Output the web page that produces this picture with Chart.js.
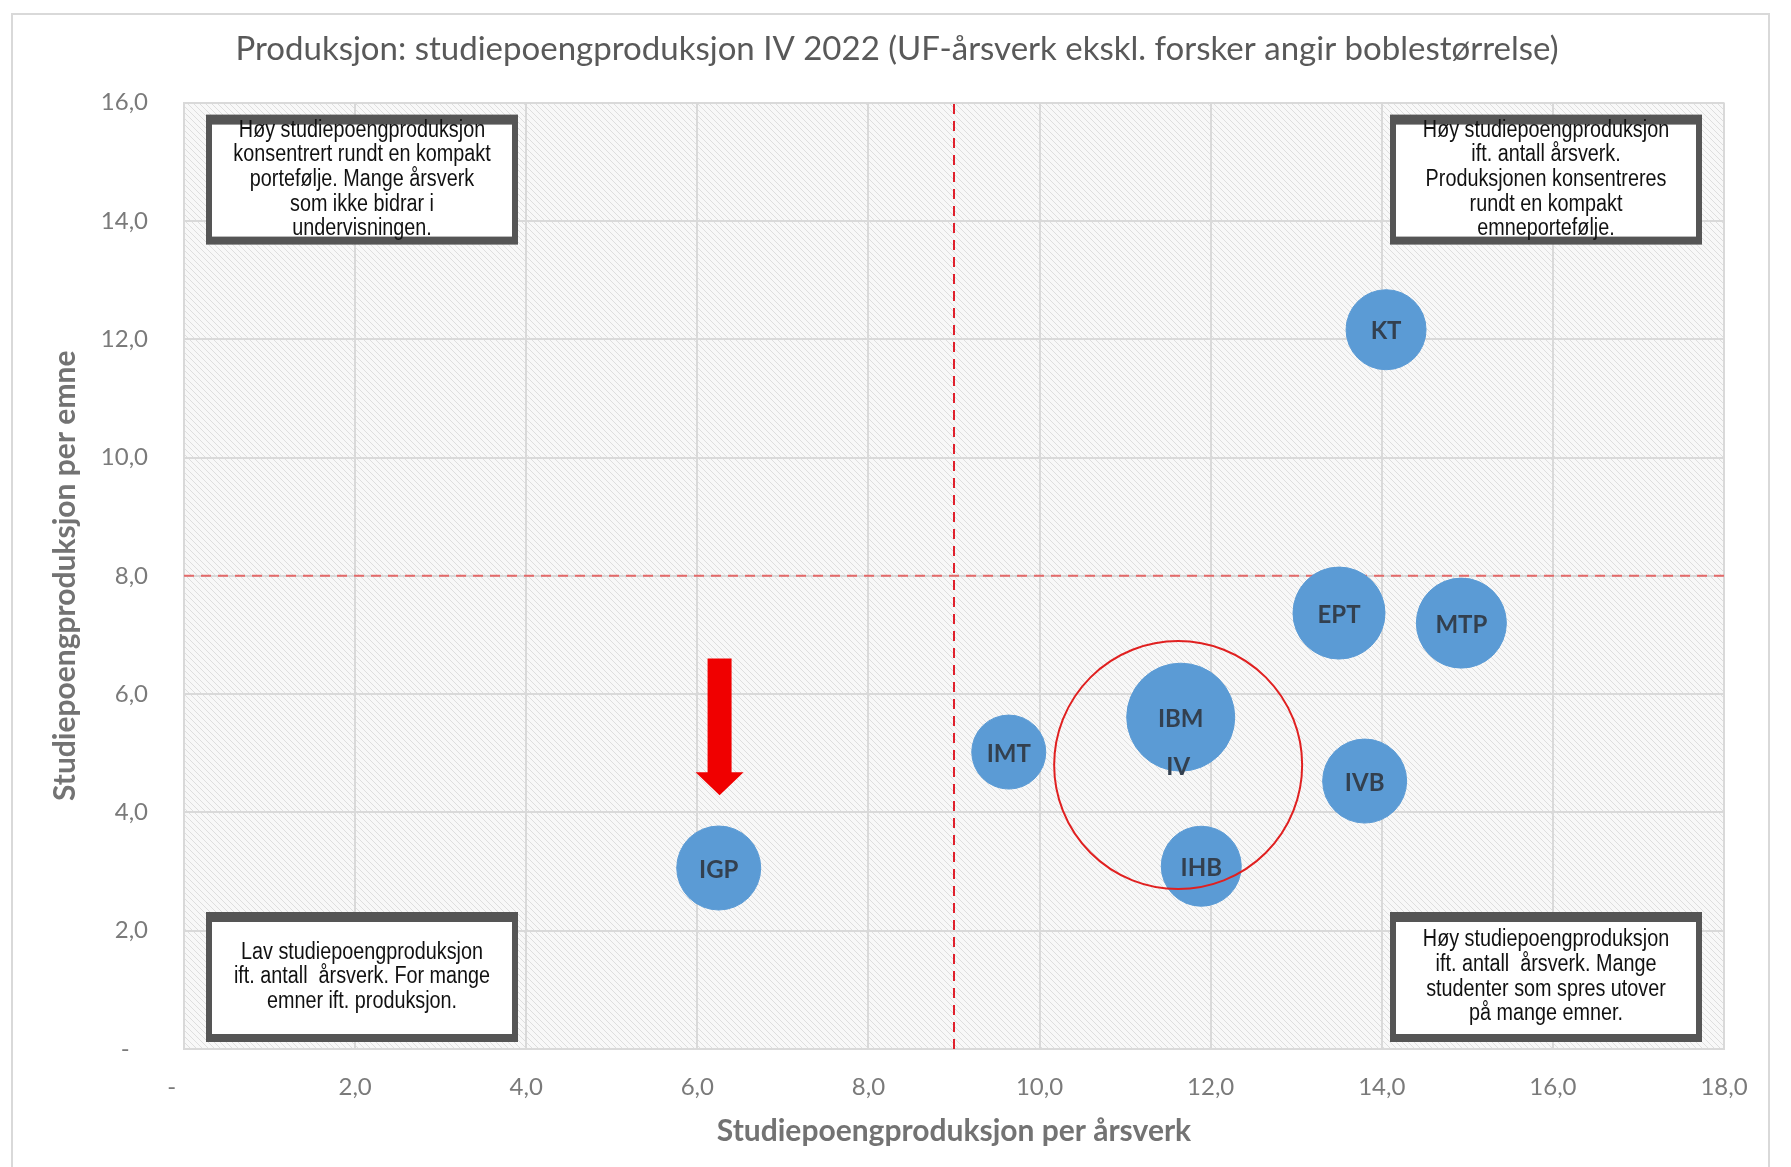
<!DOCTYPE html>
<html>
<head>
<meta charset="utf-8">
<script src="https://cdn.jsdelivr.net/npm/chart.js@4/dist/chart.umd.min.js"></script>
<style>
  body { margin: 0; background: #ffffff; }
  #wrap { width: 1791px; height: 1167px; }
</style>
</head>
<body>
<div id="wrap"><canvas id="myChart" width="1791" height="1167"></canvas></div>
<script>
// data lest av bildet
const enheter = ["KT", "EPT", "MTP", "IBM", "IMT", "IVB", "IHB", "IGP"];
const sppPerArsverk = [14.05, 13.5, 14.93, 11.65, 9.64, 13.8, 11.89, 6.25];
const sppPerEmne = [12.16, 7.37, 7.2, 5.61, 5.02, 4.53, 3.09, 3.06];
const bobleStorrelse = [40, 46, 45, 54, 37, 42, 40, 42];

// hele fakultetet (IV), tegnet som rød ring
const ivNavn = ["IV"];
const ivX = [11.62];
const ivY = [4.8];
const ivStorrelse = [124];

// skillelinjer
const skilleX = 9;
const skilleY = 8;

// rød pil over IGP
const pilX = 6.26;
const pilTopp = 6.6;
const pilHodeStart = 4.68;
const pilSpiss = 4.29;

const xTicks = [0, 2, 4, 6, 8, 10, 12, 14, 16, 18];
const yTicks = [0, 2, 4, 6, 8, 10, 12, 14, 16];

const tittel = "Produksjon: studiepoengproduksjon IV 2022 (UF-årsverk ekskl. forsker angir boblestørrelse)";
const xTittel = "Studiepoengproduksjon per årsverk";
const yTittel = "Studiepoengproduksjon per emne";

const kvadranter = [
  { hjorne: "tl", linjer: ["Høy studiepoengproduksjon", "konsentrert rundt en kompakt", "portefølje. Mange årsverk", "som ikke bidrar i", "undervisningen."] },
  { hjorne: "tr", linjer: ["Høy studiepoengproduksjon", "ift. antall årsverk.", "Produksjonen konsentreres", "rundt en kompakt", "emneportefølje."] },
  { hjorne: "bl", linjer: ["Lav studiepoengproduksjon", "ift. antall  årsverk. For mange", "emner ift. produksjon."] },
  { hjorne: "br", linjer: ["Høy studiepoengproduksjon", "ift. antall  årsverk. Mange", "studenter som spres utover", "på mange emner."] },
];

const ctx = document.getElementById("myChart");

// skravert bakgrunn i plottet
const lagMonster = () => {
  const c = document.createElement("canvas");
  c.width = 6;
  c.height = 6;
  const g = c.getContext("2d");
  g.fillStyle = "#f8f8f8";
  g.fillRect(0, 0, 6, 6);
  g.strokeStyle = "#dedede";
  g.lineWidth = 1;
  g.beginPath();
  g.moveTo(0, 0); g.lineTo(6, 6);
  g.moveTo(-3, 3); g.lineTo(3, 9);
  g.moveTo(3, -3); g.lineTo(9, 3);
  g.stroke();
  return g.createPattern(c, "repeat");
};

const formaterTick = (v, tom) => (v === 0 ? tom : v.toFixed(1).replace(".", ","));

const bakgrunn = {
  id: "bakgrunn",
  beforeDraw(chart) {
    const { ctx: c, chartArea: a } = chart;
    c.save();
    c.fillStyle = "#ffffff";
    c.fillRect(0, 0, chart.width, chart.height);
    c.strokeStyle = "#d9d9d9";
    c.lineWidth = 2;
    c.strokeRect(12, 14, 1757, 1200);
    c.fillStyle = lagMonster();
    c.fillRect(a.left, a.top, a.right - a.left, a.bottom - a.top);
    c.restore();
  },
};

const etiketter = {
  id: "etiketter",
  afterDatasetsDraw(chart) {
    const c = chart.ctx;
    c.save();
    c.font = "bold 24px Lato";
    c.fillStyle = "#33404f";
    c.textAlign = "center";
    c.textBaseline = "middle";
    chart.data.datasets.forEach((ds, i) => {
      if (!ds.navn) return;
      chart.getDatasetMeta(i).data.forEach((el, j) => {
        c.fillText(ds.navn[j], el.x, el.y + 2);
      });
    });
    c.restore();
  },
};

const pilOgBokser = {
  id: "pilOgBokser",
  afterDraw(chart) {
    const c = chart.ctx;
    const a = chart.chartArea;
    const sx = chart.scales.x;
    const sy = chart.scales.y;

    // pil
    const px = sx.getPixelForValue(pilX);
    const top = sy.getPixelForValue(pilTopp);
    const hode = sy.getPixelForValue(pilHodeStart);
    const spiss = sy.getPixelForValue(pilSpiss);
    c.save();
    c.fillStyle = "#f00000";
    c.beginPath();
    c.moveTo(px - 12, top);
    c.lineTo(px + 12, top);
    c.lineTo(px + 12, hode);
    c.lineTo(px + 24, hode);
    c.lineTo(px, spiss);
    c.lineTo(px - 24, hode);
    c.lineTo(px - 12, hode);
    c.closePath();
    c.fill();
    c.restore();

    // tekstbokser i hjørnene
    const bredde = 312;
    const hoyde = 130;
    const smal = 0.86;
    kvadranter.forEach((k) => {
      const x = k.hjorne[1] === "l" ? a.left + 22 : a.right - 22 - bredde;
      const y = k.hjorne[0] === "t" ? a.top + 12 : a.bottom - 7 - hoyde;
      c.save();
      c.fillStyle = "#555555";
      c.fillRect(x, y, bredde, hoyde);
      c.fillStyle = "#ffffff";
      c.fillRect(x + 6, y + 10, bredde - 12, hoyde - 18);
      c.fillStyle = "#111111";
      c.font = "23px 'Liberation Sans'";
      c.textAlign = "center";
      c.textBaseline = "middle";
      const linje = 24.7;
      const midt = y + hoyde / 2;
      c.translate(x + bredde / 2, 0);
      c.scale(smal, 1);
      k.linjer.forEach((t, i) => {
        c.fillText(t, 0, midt + (i - (k.linjer.length - 1) / 2) * linje);
      });
      c.restore();
    });
  },
};

new Chart(ctx, {
  type: "bubble",
  data: {
    datasets: [
      {
        navn: ivNavn,
        data: ivX.map((x, i) => ({ x: x, y: ivY[i], r: ivStorrelse[i] })),
        backgroundColor: "rgba(0,0,0,0)",
        borderColor: "#e02020",
        borderWidth: 2,
      },
      {
        navn: enheter,
        data: enheter.map((e, i) => ({ x: sppPerArsverk[i], y: sppPerEmne[i], r: bobleStorrelse[i] })),
        backgroundColor: "#5b9bd5",
        borderColor: "#5b9bd5",
        borderWidth: 1,
      },
      {
        type: "line",
        data: [{ x: skilleX, y: yTicks[0] }, { x: skilleX, y: yTicks[yTicks.length - 1] }],
        borderColor: "#e0202c",
        borderWidth: 2,
        borderDash: [10, 7],
        pointRadius: 0,
        order: 5,
      },
      {
        type: "line",
        data: [{ x: xTicks[0], y: skilleY }, { x: xTicks[xTicks.length - 1], y: skilleY }],
        borderColor: "#e46a6a",
        borderWidth: 2,
        borderDash: [10, 7],
        pointRadius: 0,
        order: 5,
      },
    ],
  },
  options: {
    responsive: false,
    animation: false,
    layout: { autoPadding: false, padding: { left: 70, right: 67, top: 0, bottom: 0 } },
    plugins: {
      legend: { display: false },
      tooltip: { enabled: false },
      title: {
        display: true,
        text: tittel,
        color: "#595959",
        font: { family: "Lato", size: 33, weight: "normal" },
        padding: { top: 30, bottom: 33 },
      },
    },
    scales: {
      x: {
        type: "linear",
        min: xTicks[0],
        max: xTicks[xTicks.length - 1],
        afterBuildTicks: (s) => { s.ticks = xTicks.map((v) => ({ value: v })); },
        afterFit: (s) => { s.height = 118; },
        grid: { color: "#d9d9d9", lineWidth: 2, drawTicks: false },
        border: { color: "#d9d9d9", width: 2 },
        ticks: {
          padding: 24,
          color: "#7a7a7a",
          font: { family: "Lato", size: 24 },
          callback: (v) => formaterTick(v, "-    "),
        },
        title: {
          display: true,
          text: xTittel,
          color: "#737373",
          font: { family: "Lato", size: 30, weight: "bold" },
          padding: { top: 0, bottom: 18 },
        },
      },
      y: {
        type: "linear",
        min: yTicks[0],
        max: yTicks[yTicks.length - 1],
        afterBuildTicks: (s) => { s.ticks = yTicks.map((v) => ({ value: v })); },
        afterFit: (s) => { s.width = 114; },
        grid: { color: "#d9d9d9", lineWidth: 2, drawTicks: false },
        border: { color: "#d9d9d9", width: 2 },
        ticks: {
          padding: 36,
          color: "#7a7a7a",
          font: { family: "Lato", size: 24 },
          callback: (v) => formaterTick(v, "-   "),
        },
        title: {
          display: true,
          text: yTittel,
          color: "#737373",
          font: { family: "Lato", size: 30, weight: "bold" },
          padding: { top: -23, bottom: 0 },
        },
      },
    },
  },
  plugins: [bakgrunn, etiketter, pilOgBokser],
});
</script>
</body>
</html>
